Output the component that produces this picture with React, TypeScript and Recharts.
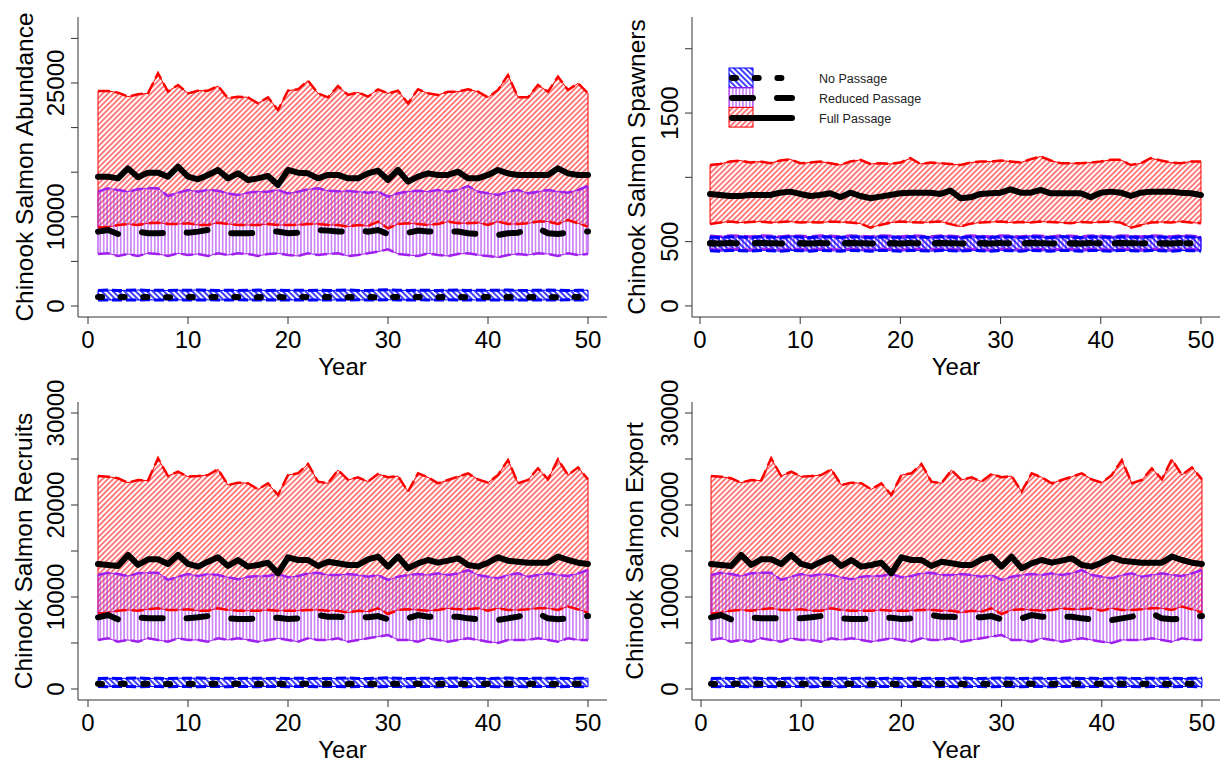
import { ComposedChart, Area, Line, XAxis, YAxis, ReferenceLine } from 'recharts'

const FONT = "'Liberation Sans', Arial, Helvetica, sans-serif"
const RED = '#ff0000'
const PURPLE = '#a020f0'
const BLUE = '#0000ff'
const AXIS = '#333333'

const years = Array.from({ length: 50 }, (_, i) => i + 1)
const xTicks = [0, 10, 20, 30, 40, 50]
const legendLabels = ['No Passage', 'Reduced Passage', 'Full Passage']

// Chinook Salmon Abundance
const abundanceFullHi = [24100, 24100, 23920, 23470, 23730, 23840, 26090, 24030, 24780, 23840, 24140, 24140, 24660, 23280, 23470, 23390, 22720, 23390, 21970, 24140, 24290, 25260, 23840, 23390, 24660, 23660, 23950, 23470, 24290, 23840, 24140, 22720, 24290, 23840, 23660, 24030, 24030, 24290, 24030, 23390, 24220, 25900, 23390, 23390, 24780, 24030, 25710, 24220, 24960, 23840]
const abundanceFullLo = [8800, 8850, 9080, 9190, 9080, 9270, 9340, 9190, 9190, 9270, 9080, 9080, 9340, 9190, 9080, 9080, 9080, 9190, 9080, 9080, 9080, 9190, 9190, 9080, 9080, 8895, 9080, 8970, 9460, 8710, 9190, 9270, 9190, 9080, 9190, 9460, 9270, 9270, 9340, 9080, 9460, 9190, 9190, 9270, 9460, 9460, 9190, 9640, 9270, 8895]
const abundanceFullMed = [14500, 14500, 14310, 15430, 14430, 14950, 14950, 14500, 15620, 14500, 14200, 14690, 15250, 14310, 14870, 14130, 14310, 14580, 13570, 15250, 14950, 14870, 14310, 14690, 14690, 14310, 14310, 14870, 15170, 14130, 15250, 13940, 14500, 14870, 14690, 14690, 15060, 14310, 14310, 14690, 15250, 14870, 14690, 14690, 14690, 14690, 15430, 14870, 14690, 14690]
const abundanceReducedHi = [12820, 13190, 13010, 12820, 13080, 13190, 13190, 12330, 12710, 13010, 12820, 13010, 12930, 12630, 12450, 12710, 12820, 12820, 13010, 12630, 12820, 13080, 13190, 12930, 12860, 12890, 12820, 12710, 12820, 12260, 12630, 12820, 12930, 12820, 13010, 12820, 13010, 13450, 12820, 12630, 12450, 12820, 13010, 12630, 12820, 13010, 12820, 12710, 13010, 13450]
const abundanceReducedLo = [5830, 5905, 5606, 5830, 5606, 5905, 5830, 5606, 5905, 5718, 5830, 5606, 5905, 5718, 5905, 5830, 5606, 5830, 5905, 5718, 5606, 5905, 5718, 5830, 5905, 5606, 5718, 5905, 6093, 6354, 5830, 5718, 5606, 5905, 5718, 5606, 5830, 5905, 5718, 5606, 5457, 5718, 5830, 5718, 5905, 5830, 5606, 5905, 5718, 5830]
const abundanceReducedMed = [8340, 8520, 8070, 8220, 8340, 8150, 8150, 8220, 8340, 8220, 8340, 8520, 8340, 8150, 8150, 8150, 8220, 8340, 8340, 8150, 8220, 8340, 8520, 8450, 8340, 8340, 8450, 8340, 8520, 8070, 8150, 8220, 8450, 8340, 8340, 8340, 8340, 8150, 8070, 7960, 7960, 8150, 8220, 8600, 8710, 8150, 8070, 8220, 8340, 8340]
const abundanceNoneHi = [1750, 1780, 1740, 1760, 1790, 1750, 1770, 1740, 1780, 1760, 1800, 1760, 1740, 1770, 1750, 1760, 1780, 1740, 1760, 1750, 1770, 1750, 1760, 1740, 1760, 1790, 1750, 1740, 1780, 1810, 1760, 1750, 1770, 1760, 1740, 1770, 1790, 1750, 1760, 1750, 1770, 1800, 1760, 1750, 1770, 1780, 1760, 1740, 1760, 1770]
const abundanceNoneLo = [680, 670, 690, 680, 670, 690, 680, 670, 690, 680, 670, 690, 680, 670, 690, 680, 670, 690, 680, 670, 690, 680, 670, 690, 680, 670, 690, 680, 670, 700, 680, 670, 690, 680, 670, 690, 680, 670, 690, 680, 670, 690, 680, 670, 690, 680, 670, 690, 680, 670]
const abundanceNoneMed = [1000, 990, 1010, 1000, 990, 1010, 1000, 990, 1010, 1000, 990, 1010, 1000, 990, 1010, 1000, 990, 1010, 1000, 990, 1010, 1000, 990, 1010, 1000, 990, 1010, 1000, 990, 1020, 1000, 990, 1010, 1000, 990, 1010, 1000, 990, 1010, 1000, 990, 1010, 1000, 990, 1010, 1000, 990, 1010, 1000, 990]

// Chinook Salmon Spawners
const spawnersFullHi = [1096, 1104, 1123, 1131, 1115, 1123, 1110, 1131, 1141, 1110, 1115, 1123, 1110, 1096, 1123, 1136, 1104, 1110, 1104, 1115, 1149, 1104, 1115, 1110, 1104, 1096, 1115, 1123, 1123, 1131, 1123, 1115, 1141, 1162, 1131, 1110, 1110, 1110, 1115, 1123, 1136, 1136, 1096, 1110, 1149, 1131, 1115, 1110, 1123, 1123]
const spawnersFullLo = [637, 648, 656, 648, 652, 656, 648, 652, 656, 648, 652, 648, 656, 652, 648, 640, 609, 630, 648, 656, 652, 648, 652, 656, 636, 617, 640, 648, 652, 656, 648, 652, 648, 656, 652, 648, 644, 652, 648, 652, 656, 648, 609, 628, 648, 652, 648, 656, 648, 644]
const spawnersFullMed = [871, 863, 855, 855, 863, 863, 863, 881, 889, 871, 855, 863, 876, 845, 881, 855, 838, 850, 863, 876, 881, 881, 881, 871, 897, 838, 845, 871, 876, 881, 907, 881, 881, 902, 876, 876, 876, 876, 845, 881, 889, 881, 855, 881, 889, 889, 889, 881, 876, 863]
const spawnersReducedHi = [545, 540, 548, 545, 540, 548, 545, 540, 548, 545, 540, 548, 545, 540, 548, 545, 540, 548, 545, 540, 548, 545, 540, 548, 545, 540, 548, 545, 540, 548, 545, 540, 548, 545, 540, 548, 545, 540, 548, 545, 540, 548, 545, 540, 548, 545, 540, 548, 545, 540]
const spawnersReducedLo = [440, 436, 442, 440, 436, 442, 440, 436, 442, 440, 436, 442, 440, 436, 442, 440, 436, 442, 440, 436, 442, 440, 436, 442, 440, 436, 442, 440, 436, 442, 440, 436, 442, 440, 436, 442, 440, 436, 442, 440, 436, 442, 440, 436, 442, 440, 436, 442, 440, 436]
const spawnersReducedMed = [488, 486, 490, 488, 486, 490, 488, 486, 490, 488, 486, 490, 488, 486, 490, 488, 486, 490, 488, 486, 490, 488, 486, 490, 488, 486, 490, 488, 486, 490, 488, 486, 490, 488, 486, 490, 488, 486, 490, 488, 486, 490, 488, 486, 490, 488, 486, 490, 488, 486]
const spawnersNoneHi = [536, 532, 538, 536, 532, 538, 536, 532, 538, 536, 532, 538, 536, 532, 538, 536, 532, 538, 536, 532, 538, 536, 532, 538, 536, 532, 538, 536, 532, 538, 536, 532, 538, 536, 532, 538, 536, 532, 538, 536, 532, 538, 536, 532, 538, 536, 532, 538, 536, 532]
const spawnersNoneLo = [430, 426, 432, 430, 426, 432, 430, 426, 432, 430, 426, 432, 430, 426, 432, 430, 426, 432, 430, 426, 432, 430, 426, 432, 430, 426, 432, 430, 426, 432, 430, 426, 432, 430, 426, 432, 430, 426, 432, 430, 426, 432, 430, 426, 432, 430, 426, 432, 430, 426]
const spawnersNoneMed = [487, 485, 489, 487, 485, 489, 487, 485, 489, 487, 485, 489, 487, 485, 489, 487, 485, 489, 487, 485, 489, 487, 485, 489, 487, 485, 489, 487, 485, 489, 487, 485, 489, 487, 485, 489, 487, 485, 489, 487, 485, 489, 487, 485, 489, 487, 485, 489, 487, 485]

// Chinook Salmon Recruits
const recruitsFullHi = [23150, 23080, 22900, 22430, 22720, 22650, 25070, 23150, 23620, 23080, 23150, 23260, 23880, 22170, 22430, 22360, 21700, 22360, 21090, 23260, 23440, 24460, 22540, 22360, 23800, 22720, 23010, 22540, 23370, 23010, 23150, 21450, 23440, 23010, 22360, 22720, 23080, 23440, 22790, 22430, 23260, 24890, 22360, 22720, 23990, 22790, 24960, 23260, 24090, 22790]
const recruitsFullLo = [8220, 8300, 8510, 8590, 8510, 8660, 8770, 8590, 8590, 8660, 8510, 8510, 8770, 8590, 8510, 8510, 8510, 8590, 8510, 8510, 8510, 8590, 8590, 8510, 8510, 8300, 8510, 8410, 8770, 8150, 8590, 8660, 8590, 8510, 8590, 8770, 8660, 8660, 8770, 8510, 8770, 8590, 8590, 8660, 8770, 8770, 8590, 8950, 8660, 8300]
const recruitsFullMed = [13590, 13480, 13370, 14570, 13480, 14100, 14100, 13590, 14570, 13590, 13300, 13840, 14310, 13370, 14020, 13300, 13480, 13730, 12570, 14310, 14020, 14020, 13370, 13840, 13660, 13480, 13480, 14100, 14390, 13300, 14390, 13120, 13660, 14020, 13730, 13950, 14200, 13480, 13300, 13730, 14310, 13950, 13840, 13730, 13730, 13730, 14390, 14020, 13730, 13590]
const recruitsReducedHi = [12390, 12640, 12500, 12280, 12570, 12640, 12640, 11850, 12210, 12500, 12280, 12500, 12390, 12140, 11920, 12210, 12280, 12280, 12500, 12140, 12280, 12570, 12640, 12390, 12390, 12500, 12390, 12210, 12390, 11850, 12210, 12390, 12500, 12390, 12570, 12390, 12570, 12930, 12390, 12210, 12030, 12390, 12570, 12210, 12390, 12570, 12390, 12280, 12570, 12930]
const recruitsReducedLo = [5330, 5510, 5140, 5330, 5140, 5510, 5330, 5140, 5510, 5330, 5330, 5140, 5510, 5330, 5510, 5330, 5140, 5330, 5510, 5330, 5140, 5510, 5330, 5330, 5510, 5140, 5330, 5510, 5690, 5870, 5330, 5330, 5140, 5510, 5330, 5140, 5330, 5510, 5330, 5140, 5010, 5330, 5330, 5330, 5510, 5330, 5140, 5510, 5330, 5330]
const recruitsReducedMed = [7790, 8040, 7570, 7680, 7790, 7680, 7680, 7680, 7790, 7680, 7790, 7930, 7790, 7680, 7610, 7610, 7680, 7680, 7750, 7610, 7680, 7860, 8040, 7860, 7860, 7790, 7860, 7790, 7930, 7570, 7680, 7680, 8040, 7860, 7860, 7860, 7860, 7680, 7570, 7500, 7500, 7680, 7860, 8150, 8220, 7680, 7570, 7680, 7860, 7930]
const recruitsNoneHi = [1150, 1180, 1140, 1160, 1190, 1150, 1170, 1140, 1180, 1160, 1200, 1160, 1140, 1170, 1150, 1160, 1180, 1140, 1160, 1150, 1170, 1150, 1160, 1140, 1160, 1190, 1150, 1140, 1180, 1210, 1160, 1150, 1170, 1160, 1140, 1170, 1190, 1150, 1160, 1150, 1170, 1200, 1160, 1150, 1170, 1180, 1160, 1140, 1160, 1170]
const recruitsNoneLo = [260, 250, 270, 260, 250, 270, 260, 250, 270, 260, 250, 270, 260, 250, 270, 260, 250, 270, 260, 250, 270, 260, 250, 270, 260, 250, 270, 260, 250, 280, 260, 250, 270, 260, 250, 270, 260, 250, 270, 260, 250, 270, 260, 250, 270, 260, 250, 270, 260, 250]
const recruitsNoneMed = [560, 550, 570, 560, 550, 570, 560, 550, 570, 560, 550, 570, 560, 550, 570, 560, 550, 570, 560, 550, 570, 560, 550, 570, 560, 550, 570, 560, 550, 580, 560, 550, 570, 560, 550, 570, 560, 550, 570, 560, 550, 570, 560, 550, 570, 560, 550, 570, 560, 550]

// Chinook Salmon Export (reads the same as recruits in the figure)
const exportFullHi = recruitsFullHi
const exportFullLo = recruitsFullLo
const exportFullMed = recruitsFullMed
const exportReducedHi = recruitsReducedHi
const exportReducedLo = recruitsReducedLo
const exportReducedMed = recruitsReducedMed
const exportNoneHi = recruitsNoneHi
const exportNoneLo = recruitsNoneLo
const exportNoneMed = recruitsNoneMed

type Band = { hi: number[]; lo: number[]; med: number[] }

interface PanelProps {
  id: string
  title: string
  left: number
  top: number
  width: number
  height: number
  marginTop: number
  yWidth: number
  titleX: number
  xDomain: [number, number]
  yDomain: [number, number]
  yTicks: number[]
  yLabels: number[]
  full: Band
  reduced: Band
  none: Band
  legend?: boolean
}

const DASH_REDUCED = '21 24'
const DASH_NONE = '4 18.7'

function Patterns({ id }: { id: string }) {
  return (
    <defs>
      <pattern id={`${id}-red`} width={3.8} height={10} patternUnits="userSpaceOnUse" patternTransform="rotate(45)">
        <line x1={1.9} y1={0} x2={1.9} y2={10} stroke={RED} strokeWidth={1} />
      </pattern>
      <pattern id={`${id}-purple`} width={3.4} height={10} patternUnits="userSpaceOnUse">
        <line x1={1.7} y1={0} x2={1.7} y2={10} stroke={PURPLE} strokeWidth={0.9} />
      </pattern>
      <pattern id={`${id}-blue`} width={4} height={10} patternUnits="userSpaceOnUse" patternTransform="rotate(-45)">
        <line x1={2} y1={0} x2={2} y2={10} stroke={BLUE} strokeWidth={1.5} />
      </pattern>
    </defs>
  )
}

function xTick(props: any) {
  const { x, y, payload } = props
  return (
    <text x={x} y={y + 24} textAnchor="middle" fontSize={24} fontFamily={FONT} fill="#000">
      {payload.value}
    </text>
  )
}

const yTick = (labels: number[]) => (props: any) => {
  const { x, y, payload } = props
  if (!labels.includes(payload.value)) return <g />
  const bx = x - 7
  return (
    <text x={bx} y={y} transform={`rotate(-90 ${bx} ${y})`} textAnchor="middle" fontSize={24} fontFamily={FONT} fill="#000">
      {payload.value}
    </text>
  )
}

function LegendBox({ id }: { id: string }) {
  const fills = [`url(#${id}-blue)`, `url(#${id}-purple)`, `url(#${id}-red)`]
  const borders = [BLUE, PURPLE, RED]
  const dashes = [DASH_NONE, DASH_REDUCED, undefined]
  return (
    <g>
      {legendLabels.map((label, i) => (
        <g key={label}>
          <rect x={117} y={68 + i * 19.7} width={24} height={19.7} fill={fills[i]} stroke={borders[i]} strokeWidth={1} />
          <line x1={120} x2={180} y1={78 + i * 20} y2={78 + i * 20} stroke="#000" strokeWidth={6} strokeLinecap="round" strokeDasharray={dashes[i]} />
          <text x={207} y={82.5 + i * 20} fontSize={12.5} fontFamily={FONT} fill="#222">
            {label}
          </text>
        </g>
      ))}
    </g>
  )
}

function Panel(p: PanelProps) {
  const data = years.map((year, i) => ({
    year,
    fullBand: [p.full.lo[i], p.full.hi[i]],
    reducedBand: [p.reduced.lo[i], p.reduced.hi[i]],
    noneBand: [p.none.lo[i], p.none.hi[i]],
    fullHi: p.full.hi[i],
    fullLo: p.full.lo[i],
    fullMed: p.full.med[i],
    reducedHi: p.reduced.hi[i],
    reducedLo: p.reduced.lo[i],
    reducedMed: p.reduced.med[i],
    noneHi: p.none.hi[i],
    noneLo: p.none.lo[i],
    noneMed: p.none.med[i],
  }))
  const plotTop = p.marginTop
  const plotBottom = p.height - 63
  const plotLeft = p.yWidth
  const plotRight = p.width - 5
  const first = 0
  const last = years.length - 1
  const bands: [Band, string][] = [
    [p.full, RED],
    [p.reduced, PURPLE],
    [p.none, BLUE],
  ]

  return (
    <div style={{ position: 'absolute', left: p.left, top: p.top }}>
      <ComposedChart width={p.width} height={p.height} data={data} margin={{ top: p.marginTop, right: 5, left: 0, bottom: 0 }}>
        <Patterns id={p.id} />
        <XAxis
          dataKey="year"
          type="number"
          domain={p.xDomain}
          ticks={xTicks}
          allowDataOverflow
          interval={0}
          height={63}
          tickSize={7}
          tickMargin={0}
          axisLine={{ stroke: AXIS }}
          tickLine={{ stroke: AXIS }}
          tick={xTick}
        />
        <YAxis
          type="number"
          domain={p.yDomain}
          ticks={p.yTicks}
          allowDataOverflow
          interval={0}
          width={p.yWidth}
          tickSize={7}
          tickMargin={0}
          axisLine={{ stroke: AXIS }}
          tickLine={{ stroke: AXIS }}
          tick={yTick(p.yLabels)}
        />
        <Area dataKey="fullBand" type="linear" fill={`url(#${p.id}-red)`} fillOpacity={1} stroke={RED} strokeWidth={1} dot={false} activeDot={false} isAnimationActive={false} />
        <Area dataKey="reducedBand" type="linear" fill={`url(#${p.id}-purple)`} fillOpacity={1} stroke={PURPLE} strokeWidth={1} dot={false} activeDot={false} isAnimationActive={false} />
        <Area dataKey="noneBand" type="linear" fill={`url(#${p.id}-blue)`} fillOpacity={1} stroke={BLUE} strokeWidth={1} dot={false} activeDot={false} isAnimationActive={false} />
        {bands.map(([b, color]) =>
          [first, last].map((k) => (
            <ReferenceLine
              key={`${color}-${k}`}
              segment={[
                { x: years[k], y: b.lo[k] },
                { x: years[k], y: b.hi[k] },
              ]}
              stroke={color}
              strokeWidth={1}
            />
          ))
        )}
        <Line dataKey="fullHi" type="linear" stroke={RED} strokeWidth={2.5} strokeDasharray="12 5" dot={false} activeDot={false} isAnimationActive={false} />
        <Line dataKey="fullLo" type="linear" stroke={RED} strokeWidth={2.5} strokeDasharray="12 5" dot={false} activeDot={false} isAnimationActive={false} />
        <Line dataKey="reducedHi" type="linear" stroke={PURPLE} strokeWidth={2.5} strokeDasharray="12 5" dot={false} activeDot={false} isAnimationActive={false} />
        <Line dataKey="reducedLo" type="linear" stroke={PURPLE} strokeWidth={2.5} strokeDasharray="12 5" dot={false} activeDot={false} isAnimationActive={false} />
        <Line dataKey="noneHi" type="linear" stroke={BLUE} strokeWidth={3} strokeDasharray="10 4" dot={false} activeDot={false} isAnimationActive={false} />
        <Line dataKey="noneLo" type="linear" stroke={BLUE} strokeWidth={3} strokeDasharray="10 4" dot={false} activeDot={false} isAnimationActive={false} />
        <Line dataKey="fullMed" type="linear" stroke="#000" strokeWidth={6} strokeLinecap="round" strokeLinejoin="round" dot={false} activeDot={false} isAnimationActive={false} />
        <Line dataKey="reducedMed" type="linear" stroke="#000" strokeWidth={6} strokeLinecap="round" strokeDasharray={DASH_REDUCED} dot={false} activeDot={false} isAnimationActive={false} />
        <Line dataKey="noneMed" type="linear" stroke="#000" strokeWidth={6} strokeLinecap="round" strokeDasharray={DASH_NONE} dot={false} activeDot={false} isAnimationActive={false} />
        <text
          x={p.titleX}
          y={(plotTop + plotBottom) / 2}
          transform={`rotate(-90 ${p.titleX} ${(plotTop + plotBottom) / 2})`}
          textAnchor="middle"
          fontSize={24.5}
          fontFamily={FONT}
          fill="#000"
        >
          {p.title}
        </text>
        <text x={(plotLeft + plotRight) / 2} y={plotBottom + 58} textAnchor="middle" fontSize={24} fontFamily={FONT} fill="#000">
          Year
        </text>
        {p.legend && <LegendBox id={p.id} />}
      </ComposedChart>
    </div>
  )
}

const bigTicks = [0, 5000, 10000, 15000, 20000, 25000, 30000]

export default function App() {
  return (
    <div style={{ position: 'absolute', left: 0, top: 0, width: 1225, height: 763, background: '#fff' }}>
      <Panel
        id="ab"
        title="Chinook Salmon Abundance"
        left={0}
        top={0}
        width={612}
        height={380}
        marginTop={17}
        yWidth={78}
        titleX={33}
        xDomain={[-1, 51.9]}
        yDomain={[-1233, 32399]}
        yTicks={bigTicks}
        yLabels={[0, 10000, 25000]}
        full={{ hi: abundanceFullHi, lo: abundanceFullLo, med: abundanceFullMed }}
        reduced={{ hi: abundanceReducedHi, lo: abundanceReducedLo, med: abundanceReducedMed }}
        none={{ hi: abundanceNoneHi, lo: abundanceNoneLo, med: abundanceNoneMed }}
      />
      <Panel
        id="sp"
        title="Chinook Salmon Spawners"
        left={612}
        top={0}
        width={613}
        height={380}
        marginTop={17}
        yWidth={80}
        titleX={33}
        xDomain={[-0.8, 51.9]}
        yDomain={[-86, 2247]}
        yTicks={[0, 500, 1000, 1500, 2000]}
        yLabels={[0, 500, 1500]}
        full={{ hi: spawnersFullHi, lo: spawnersFullLo, med: spawnersFullMed }}
        reduced={{ hi: spawnersReducedHi, lo: spawnersReducedLo, med: spawnersReducedMed }}
        none={{ hi: spawnersNoneHi, lo: spawnersNoneLo, med: spawnersNoneMed }}
        legend
      />
      <Panel
        id="rc"
        title="Chinook Salmon Recruits"
        left={0}
        top={380}
        width={612}
        height={383}
        marginTop={22}
        yWidth={78}
        titleX={32}
        xDomain={[-1, 51.9]}
        yDomain={[-1196, 31196]}
        yTicks={bigTicks}
        yLabels={[0, 10000, 20000, 30000]}
        full={{ hi: recruitsFullHi, lo: recruitsFullLo, med: recruitsFullMed }}
        reduced={{ hi: recruitsReducedHi, lo: recruitsReducedLo, med: recruitsReducedMed }}
        none={{ hi: recruitsNoneHi, lo: recruitsNoneLo, med: recruitsNoneMed }}
      />
      <Panel
        id="ex"
        title="Chinook Salmon Export"
        left={612}
        top={380}
        width={613}
        height={383}
        marginTop={22}
        yWidth={80}
        titleX={31}
        xDomain={[-0.9, 51.8]}
        yDomain={[-1196, 31196]}
        yTicks={bigTicks}
        yLabels={[0, 10000, 20000, 30000]}
        full={{ hi: exportFullHi, lo: exportFullLo, med: exportFullMed }}
        reduced={{ hi: exportReducedHi, lo: exportReducedLo, med: exportReducedMed }}
        none={{ hi: exportNoneHi, lo: exportNoneLo, med: exportNoneMed }}
      />
    </div>
  )
}
